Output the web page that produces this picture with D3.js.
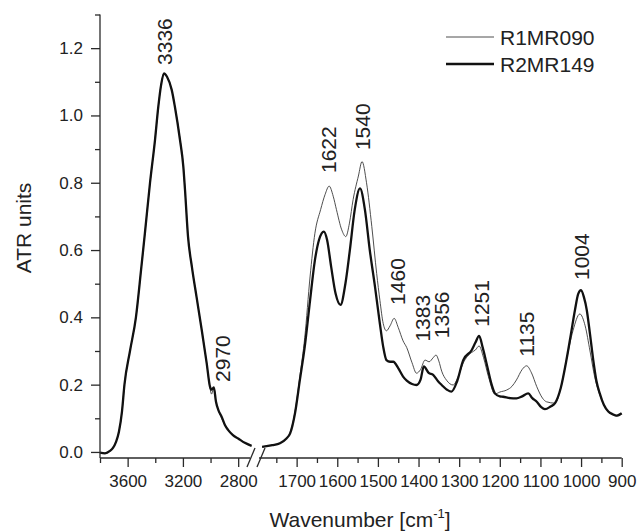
<!DOCTYPE html>
<html>
<head>
<meta charset="utf-8">
<script src="https://cdn.jsdelivr.net/npm/d3@7"></script>
<style>
  html, body { margin: 0; padding: 0; background: #fff; }
  svg { display: block; font-family: "Liberation Sans", Arial, sans-serif; }
</style>
</head>
<body>
<svg id="chart" width="637" height="532"></svg>
<script>
// ---------- DATA ----------
// Left segment (high wavenumber region)
const leftWn = [3800, 3764, 3728, 3706, 3684, 3663, 3641, 3623, 3583, 3540, 3503, 3475, 3438, 3402, 3378, 3358, 3337, 3315, 3281, 3258, 3221, 3197, 3185, 3163, 3135, 3101, 3064, 3028, 3004, 2993, 2981, 2976, 2961, 2944, 2920, 2896, 2872, 2838, 2800, 2752, 2703];
const r1Left  = [-0.002, -0.004, 0.003, 0.012, 0.03, 0.06, 0.12, 0.2, 0.30, 0.40, 0.54, 0.65, 0.80, 0.927, 1.026, 1.09, 1.125, 1.115, 1.076, 1.026, 0.93, 0.85, 0.78, 0.64, 0.55, 0.46, 0.363, 0.264, 0.19, 0.172, 0.185, 0.19, 0.15, 0.125, 0.10, 0.08, 0.065, 0.05, 0.04, 0.027, 0.018];
const r2Left  = [-0.002, -0.004, 0.003, 0.012, 0.03, 0.06, 0.12, 0.2, 0.30, 0.40, 0.54, 0.65, 0.80, 0.927, 1.026, 1.09, 1.125, 1.115, 1.076, 1.026, 0.927, 0.848, 0.78, 0.64, 0.55, 0.46, 0.363, 0.264, 0.194, 0.185, 0.19, 0.192, 0.15, 0.125, 0.105, 0.08, 0.065, 0.05, 0.04, 0.027, 0.018];

// Right segment (fingerprint region)
const r1RightWn = [1785, 1760, 1741, 1725, 1716, 1704, 1692, 1680, 1667, 1655, 1641, 1630, 1620, 1610, 1602, 1589, 1579, 1570, 1561, 1548, 1539, 1528, 1515, 1503, 1495, 1487, 1479, 1470, 1460, 1450, 1438, 1429, 1416, 1405, 1395, 1384, 1374, 1364, 1357, 1350, 1343, 1331, 1315, 1302, 1290, 1270, 1260, 1251, 1240, 1228, 1212, 1200, 1183, 1170, 1159, 1145, 1134, 1122, 1109, 1095, 1085, 1064, 1050, 1036, 1020, 1003, 990, 978, 966, 954, 940, 925, 912, 900];
const r1Right   = [0.015, 0.02, 0.026, 0.04, 0.058, 0.12, 0.225, 0.34, 0.52, 0.65, 0.72, 0.765, 0.79, 0.76, 0.72, 0.66, 0.64, 0.68, 0.75, 0.82, 0.863, 0.80, 0.67, 0.53, 0.45, 0.382, 0.36, 0.375, 0.397, 0.37, 0.33, 0.31, 0.265, 0.234, 0.245, 0.273, 0.268, 0.28, 0.288, 0.27, 0.24, 0.213, 0.199, 0.225, 0.264, 0.295, 0.303, 0.315, 0.28, 0.224, 0.172, 0.178, 0.184, 0.195, 0.214, 0.245, 0.256, 0.235, 0.194, 0.16, 0.149, 0.145, 0.19, 0.273, 0.36, 0.41, 0.375, 0.30, 0.22, 0.17, 0.13, 0.112, 0.107, 0.113];

const r2RightWn = [1785, 1760, 1741, 1725, 1716, 1704, 1692, 1680, 1667, 1655, 1645, 1633, 1625, 1615, 1604, 1592, 1580, 1569, 1557, 1544, 1532, 1520, 1507, 1495, 1487, 1479, 1470, 1462, 1450, 1438, 1429, 1416, 1405, 1395, 1387, 1375, 1364, 1352, 1343, 1330, 1319, 1305, 1290, 1269, 1260, 1251, 1242, 1232, 1220, 1212, 1200, 1192, 1175, 1159, 1145, 1130, 1120, 1109, 1098, 1089, 1075, 1064, 1050, 1036, 1025, 1015, 1007, 1000, 993, 986, 978, 970, 962, 954, 944, 933, 922, 912, 900];
const r2Right   = [0.015, 0.02, 0.026, 0.04, 0.055, 0.115, 0.214, 0.313, 0.45, 0.57, 0.63, 0.655, 0.63, 0.55, 0.47, 0.437, 0.50, 0.60, 0.72, 0.783, 0.72, 0.60, 0.49, 0.38, 0.313, 0.273, 0.268, 0.268, 0.249, 0.224, 0.212, 0.202, 0.199, 0.215, 0.254, 0.235, 0.229, 0.21, 0.199, 0.185, 0.179, 0.21, 0.273, 0.303, 0.325, 0.345, 0.31, 0.26, 0.20, 0.174, 0.165, 0.164, 0.16, 0.159, 0.165, 0.174, 0.16, 0.149, 0.133, 0.127, 0.135, 0.145, 0.19, 0.273, 0.35, 0.422, 0.47, 0.481, 0.46, 0.422, 0.35, 0.273, 0.21, 0.174, 0.14, 0.12, 0.112, 0.108, 0.115];

// Peak annotations: wavenumber, label, annotation height (ATR units)
const peakWn    = [3336, 2970, 1622, 1540, 1460, 1383, 1356, 1251, 1135, 1004];
const peakText  = ["3336", "2970", "1622", "1540", "1460", "1383", "1356", "1251", "1135", "1004"];
const peakY     = [1.150, 0.208, 0.829, 0.897, 0.437, 0.328, 0.338, 0.372, 0.283, 0.511];

const leftTicks  = [3600, 3200, 2800];
const leftMinor  = [3800, 3400, 3000];
const rightTicks = [1700, 1600, 1500, 1400, 1300, 1200, 1100, 1000, 900];
const rightMinor = [1750, 1650, 1550, 1450, 1350, 1250, 1150, 1050, 950];
const yTicks = [0.0, 0.2, 0.4, 0.6, 0.8, 1.0, 1.2];
const yMinor = [0.1, 0.3, 0.5, 0.7, 0.9, 1.1, 1.3];

const seriesNames = ["R1MR090", "R2MR149"];

// ---------- DRAW ----------
const svg = d3.select("#chart");
const axisColor = "#2a2a2a";

const xL = d3.scaleLinear().domain([3800, 2700]).range([100, 252]);
const xR = d3.scaleLinear().domain([1800, 900]).range([256, 621.7]);
const y  = d3.scaleLinear().domain([-0.018, 1.3]).range([458, 14.5]);

function seg(wn, vals, xs) { return wn.map((w, i) => [xs(w), y(vals[i])]); }
const line = d3.line().curve(d3.curveMonotoneX);

const styles = [
  { stroke: "#3a3a3a", width: 0.9 },
  { stroke: "#111", width: 2.3 }
];

const lines = [
  [seg(leftWn, r1Left, xL), seg(r1RightWn, r1Right, xR)],
  [seg(leftWn, r2Left, xL), seg(r2RightWn, r2Right, xR)]
];
lines.forEach((parts, si) => {
  parts.forEach(pts => {
    svg.append("path")
      .attr("d", line(pts))
      .attr("fill", "none")
      .attr("stroke", styles[si].stroke)
      .attr("stroke-width", styles[si].width)
      .attr("stroke-linejoin", "round");
  });
});

// Axes
function styleAxis(g) {
  g.select(".domain").remove();
  g.selectAll("line").attr("stroke", axisColor).attr("stroke-width", 1.3);
  g.selectAll("text").attr("fill", "#222").style("font-size", "17px")
    .style("font-family", '"Liberation Sans", Arial, sans-serif');
}
const fmtD = d3.format("d");
svg.append("g").attr("transform", "translate(0,458)")
  .call(d3.axisBottom(xL).tickValues(leftTicks).tickSize(9).tickPadding(8).tickFormat(fmtD)).call(styleAxis);
svg.append("g").attr("transform", "translate(0,458)")
  .call(d3.axisBottom(xL).tickValues(leftMinor).tickSize(5).tickFormat("")).call(styleAxis);
svg.append("g").attr("transform", "translate(0,458)")
  .call(d3.axisBottom(xR).tickValues(rightTicks).tickSize(9).tickPadding(8).tickFormat(fmtD)).call(styleAxis);
svg.append("g").attr("transform", "translate(0,458)")
  .call(d3.axisBottom(xR).tickValues(rightMinor).tickSize(5).tickFormat("")).call(styleAxis);
svg.append("g").attr("transform", "translate(100,0)")
  .call(d3.axisLeft(y).tickValues(yTicks).tickSize(9).tickPadding(8).tickFormat(d3.format(".1f"))).call(styleAxis);
svg.append("g").attr("transform", "translate(100,0)")
  .call(d3.axisLeft(y).tickValues(yMinor).tickSize(5).tickFormat("")).call(styleAxis);

// axis lines (broken x axis)
svg.append("line").attr("x1", 100).attr("x2", 100).attr("y1", y.range()[0]).attr("y2", y.range()[1])
  .attr("stroke", axisColor).attr("stroke-width", 1.3);
svg.append("line").attr("x1", 100).attr("x2", 250).attr("y1", 458).attr("y2", 458)
  .attr("stroke", axisColor).attr("stroke-width", 1.3);
svg.append("line").attr("x1", 259).attr("x2", xR(900)).attr("y1", 458).attr("y2", 458)
  .attr("stroke", axisColor).attr("stroke-width", 1.3);
// break marks
[[247, 467, 255, 448], [257, 467, 265, 448]].forEach(d => {
  svg.append("line").attr("x1", d[0]).attr("y1", d[1]).attr("x2", d[2]).attr("y2", d[3])
    .attr("stroke", axisColor).attr("stroke-width", 1.3);
});

// Axis titles
svg.append("text").attr("x", 360).attr("y", 527).attr("text-anchor", "middle")
  .style("font-size", "21px").attr("fill", "#222")
  .call(t => {
    t.append("tspan").text("Wavenumber [cm");
    t.append("tspan").text("-1").style("font-size", "13px").attr("dy", -9);
    t.append("tspan").text("]").attr("dy", 9);
  });
svg.append("text").attr("transform", "translate(31,228) rotate(-90)").attr("text-anchor", "middle")
  .style("font-size", "21px").attr("fill", "#222").text("ATR units");

// Peak labels
const dxPeak = [0, 8, 0, 1, 3, -3, 5, 2, 0, 2];
peakWn.forEach((w, i) => {
  const px = (w > 2000 ? xL(w) : xR(w)) + dxPeak[i];
  svg.append("text")
    .attr("transform", `translate(${px + 7.5},${y(peakY[i])}) rotate(-90)`)
    .attr("text-anchor", "start")
    .style("font-size", "21px").attr("fill", "#222")
    .text(peakText[i]);
});

// Legend
seriesNames.forEach((name, i) => {
  const ly = 37 + i * 27;
  svg.append("line").attr("x1", 446).attr("x2", 494).attr("y1", ly).attr("y2", ly)
    .attr("stroke", styles[i].stroke).attr("stroke-width", styles[i].width);
  svg.append("text").attr("x", 500).attr("y", ly + 7.5)
    .style("font-size", "21px").attr("fill", "#222").text(name);
});
</script>
</body>
</html>
